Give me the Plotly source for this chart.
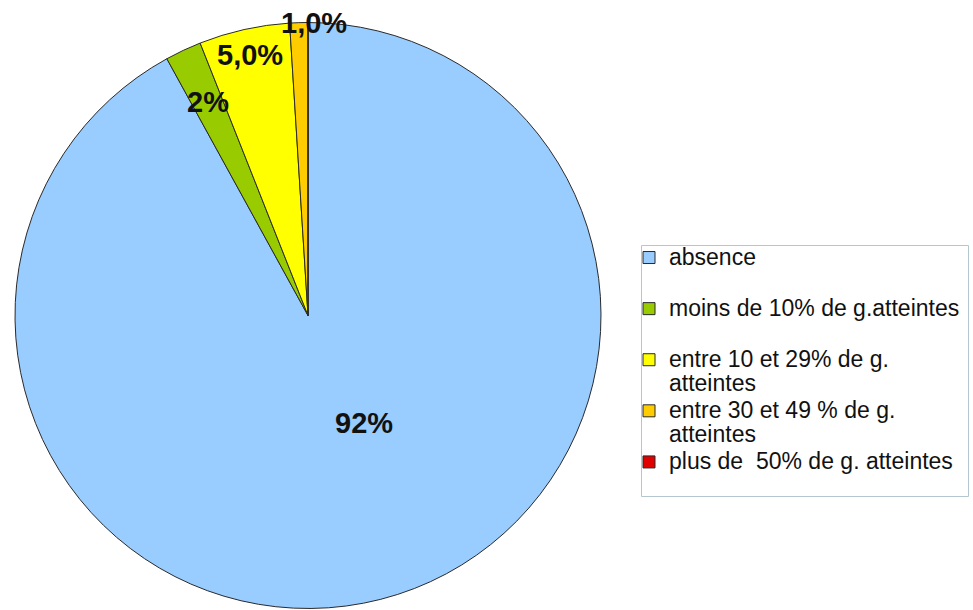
import math
import plotly.graph_objects as go

# ---- data ----
categories = [
    "absence",
    "moins de 10% de g.atteintes",
    "entre 10 et 29% de g.<br>atteintes",
    "entre 30 et 49 % de g.<br>atteintes",
    "plus de  50% de g. atteintes",
]
values = [92, 2, 5, 1, 0]
value_labels = ["92%", "2%", "5,0%", "1,0%", ""]

# ---- style ----
colors = ["#99CCFF", "#99CC00", "#FFFF00", "#FFCC00", "#E00000"]
# blank second line on single-line entries reproduces the legend spacing
pad_lines = ["<br>\u00a0", "<br>\u00a0", "", "", ""]
LEG_GLYPH = 23
legend_names = [
    '<span style="font-size:%dpx">%s</span>' % (LEG_GLYPH, c.replace("<br>", '</span><br><span style="font-size:%dpx">' % LEG_GLYPH)) + p
    for c, p in zip(categories, pad_lines)
]
label_r = [0.415, 0.805, 0.91, 1.0, 0.9]
label_dtheta = [-13.0, 0.0, 0.0, 3.0, 0.0]

W, H = 973, 610


def px(p):
    return p / W


def py(p):
    return 1 - p / H


dom_x = [px(15), px(601)]
dom_y = [py(609), py(22)]

fig = go.Figure(
    go.Pie(
        labels=legend_names,
        values=values,
        sort=False,
        direction="clockwise",
        rotation=0,
        textinfo="none",
        hoverinfo="percent",
        marker=dict(colors=colors, line=dict(color="#2a2a2a", width=1)),
        domain=dict(x=dom_x, y=dom_y),
        showlegend=True,
    )
)

# label annotations computed from the data (slice mid-angles)
wpx = (dom_x[1] - dom_x[0]) * W
hpx = (dom_y[1] - dom_y[0]) * H
Rpx = min(wpx, hpx) / 2
cx = (dom_x[0] + dom_x[1]) / 2 * W
cy = (1 - (dom_y[0] + dom_y[1]) / 2) * H
total = sum(values)
cum = 0
for i, v in enumerate(values):
    mid = (cum + v / 2) / total * 360 + label_dtheta[i]
    cum += v
    if not value_labels[i]:
        continue
    th = math.radians(mid)
    xp = cx + label_r[i] * Rpx * math.sin(th)
    yp = cy - label_r[i] * Rpx * math.cos(th)
    fig.add_annotation(
        x=xp / W, y=1 - yp / H, xref="paper", yref="paper",
        text="<b>%s</b>" % value_labels[i], showarrow=False,
        font=dict(family="Liberation Sans, Arial", size=29, color="#111111"),
        xanchor="center", yanchor="middle",
    )

# legend frame
fig.add_shape(
    type="rect", xref="paper", yref="paper",
    x0=px(641.5), x1=px(968.5),
    y0=py(496.5), y1=py(245.5),
    line=dict(color="#b4c6d0", width=1), fillcolor="white", layer="below",
)

fig.update_layout(
    width=W, height=H,
    margin=dict(l=0, r=0, t=0, b=0),
    paper_bgcolor="white",
    plot_bgcolor="white",
    font=dict(family="Liberation Sans, Arial", size=18.5, color="#111111"),
    legend=dict(
        x=px(629), y=py(239), xanchor="left", yanchor="top",
        borderwidth=0, bgcolor="rgba(0,0,0,0)",
        traceorder="normal", valign="top",
        font=dict(size=18.5),
    ),
)

fig.write_html(
    "out.html",
    config={"displayModeBar": False},
    post_script="document.body.style.margin='0';document.body.style.overflow='hidden';",
)
